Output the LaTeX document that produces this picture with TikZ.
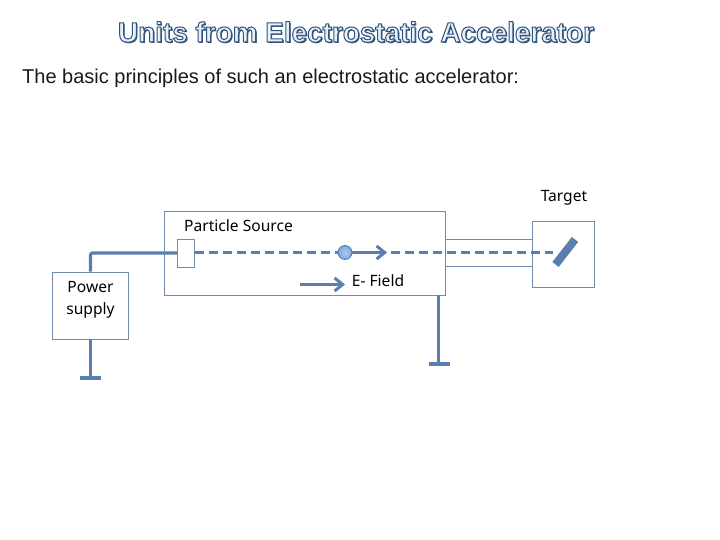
\documentclass[tikz,border=0pt]{standalone}
\usepackage{fontspec}
\setmainfont{Liberation Sans}
\newfontfamily\lblfont{Noto Sans}
\usetikzlibrary{arrows.meta}
\definecolor{wire}{HTML}{5A7FAE}
\definecolor{boxline}{HTML}{6E8CA8}
\definecolor{titleline}{HTML}{34527A}
\definecolor{ballfill}{HTML}{7FA6DE}
\definecolor{ballline}{HTML}{4F77B0}
\newcommand{\outlinedtitle}{\special{pdf:code q 2 Tr 1 w 0.20 0.32 0.48 RG 0.90 0.95 0.98 rg}Units from Electrostatic Accelerator\special{pdf:code 0 Tr Q}}
\tikzset{
  box/.style={draw=boxline,line width=0.9pt,fill=white,inner sep=0pt},
  plainline/.style={draw=boxline,line width=0.9pt},
  wireline/.style={draw=wire,line width=3.2pt,line join=round},
  beam/.style={draw=wire,line width=3pt,dash pattern=on 9pt off 5pt},
  arrowline/.style={draw=wire,line width=3pt,-{Straight Barb[length=8pt,width=13pt,line width=3pt]}},
  lbl/.style={font=\lblfont\fontsize{15.6}{22}\selectfont,text=black,inner sep=0pt,align=center},
}
\begin{document}
\begin{tikzpicture}[x=1pt,y=-1pt]
\useasboundingbox (0,0) rectangle (720,540);
\node (titleshadow) [anchor=center,inner sep=0pt,font=\bfseries\fontsize{27.9}{30}\selectfont,text=titleline] at (357.2,33.2) {Units from Electrostatic Accelerator};
\node (title) [anchor=center,inner sep=0pt,font=\bfseries\fontsize{27.9}{30}\selectfont] at (356,32) {\outlinedtitle};
\node (intro) [anchor=west,inner sep=0pt,font=\fontsize{20}{22}\selectfont,text=black!90] at (22,78.5) {The basic principles of such an electrostatic accelerator:};
% main chamber
\node (chamber) [box,minimum width=281pt,minimum height=84pt] at (304.5,253) {};
% tube
\coordinate (tubeTL) at (445,239);
\coordinate (tubeTR) at (532,239);
\coordinate (tubeBL) at (445,266);
\coordinate (tubeBR) at (532,266);
\draw[plainline] (tubeTL) -- (tubeTR);
\draw[plainline] (tubeBL) -- (tubeBR);
% target box
\node (targetbox) [box,minimum width=62.5pt,minimum height=66.5pt] at (563.25,254.25) {};
% power supply
\node (power) [box,minimum width=76pt,minimum height=67pt] at (90.5,305.5) {};
\node (powerlbl) [lbl] at (90.5,300) {Power\\supply};
% source
\node (source) [box,minimum width=17.5pt,minimum height=28pt] at (186,253) {};
% wires
\draw[wireline,rounded corners=2pt] (power.north) -- (90.5,253) -- (source.west);
\coordinate (g1) at (90.5,378);
\draw[wireline] (power.south) -- (g1);
\draw[wireline] (80,378) -- (101,378);
\coordinate (g2top) at (438.5,295);
\coordinate (g2) at (438.5,364);
\draw[wireline] (g2top) -- (g2);
\draw[wireline] (428.5,364) -- (449.5,364);
% beam
\coordinate (beamEnd) at (553,252.5);
\draw[beam] (source.east |- beamEnd) -- (beamEnd);
% target plate
\coordinate (plateA) at (555.5,264.5);
\coordinate (plateB) at (575,239.5);
\draw[draw=wire,line width=8pt] (plateA) -- (plateB);
% particle and arrows
\coordinate (ballC) at (345,252.5);
\coordinate (ballArrow) at (387,252.5);
\draw[arrowline] (ballC) -- (ballArrow);
\node (ball) [circle,minimum size=14pt,inner sep=0pt,draw=ballline,line width=0.8pt,inner color=ballfill!60,outer color=ballfill] at (ballC) {};
\coordinate (fieldA) at (300,284.5);
\coordinate (fieldB) at (345,284.5);
\draw[arrowline] (fieldA) -- (fieldB);
% labels
\node (srclbl) [lbl] at (238.5,225.5) {Particle Source};
\node (fieldlbl) [lbl] at (378,280.5) {E- Field};
\node (targetlbl) [lbl] at (564,197.5) {Target};
\end{tikzpicture}
\end{document}
